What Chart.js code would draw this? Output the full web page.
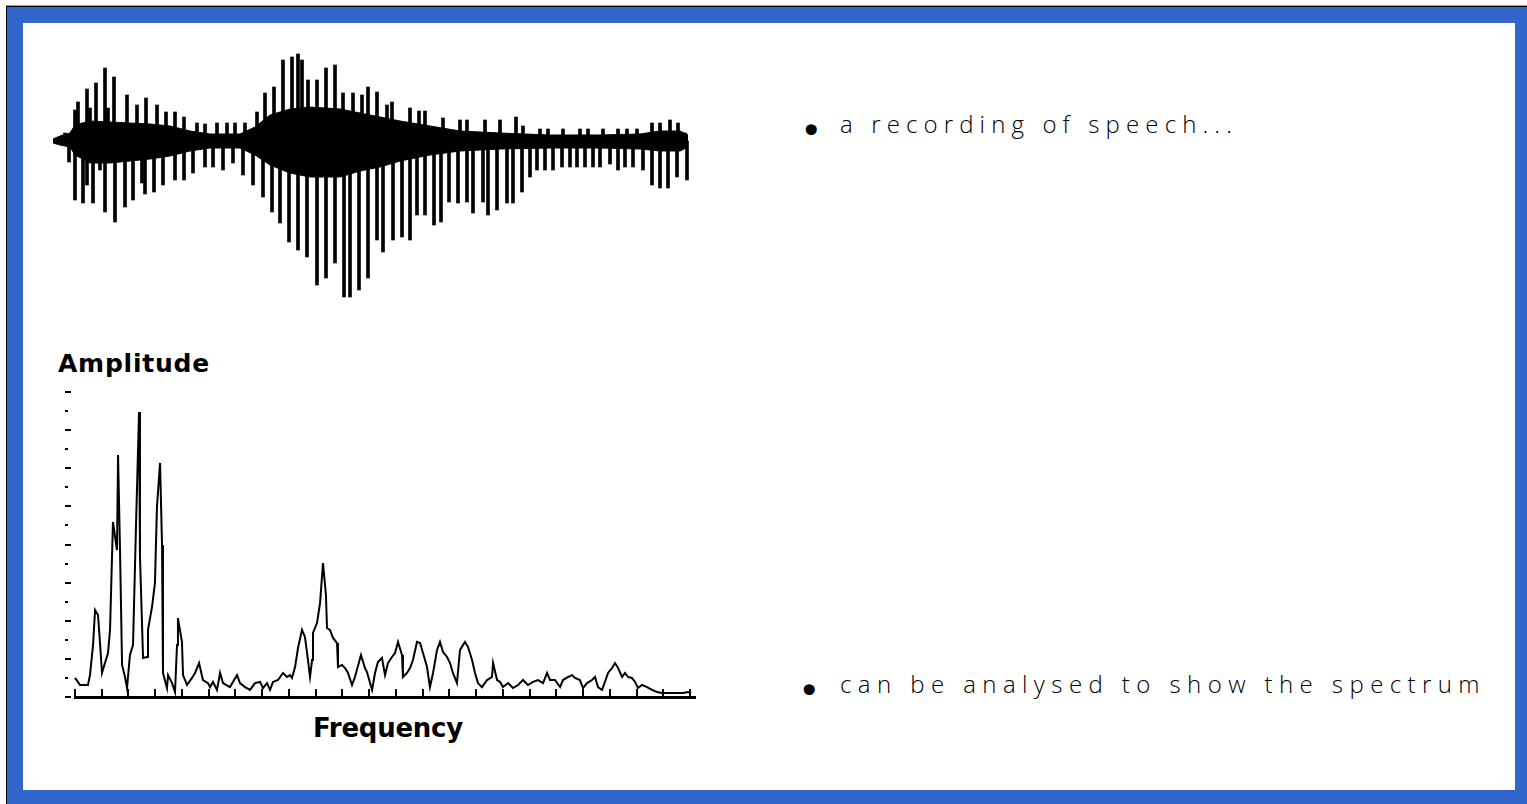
<!DOCTYPE html>
<html>
<head>
<meta charset="utf-8">
<script src="https://cdn.jsdelivr.net/npm/chart.js@4/dist/chart.umd.min.js"></script>
<style>
  html, body { margin: 0; padding: 0; background: #fff; }
  body { width: 1527px; height: 804px; position: relative; overflow: hidden; }
  .abs { position: absolute; }
  .txt { position: absolute; white-space: nowrap; line-height: 1; color: #000; }
  .light { font-family: "Open Sans", "DejaVu Sans", sans-serif; font-weight: 300; font-size: 24px; }
  .bold { font-family: "DejaVu Sans", sans-serif; font-weight: bold; }
  canvas { position: absolute; }
</style>
</head>
<body>
<!-- slide frame -->
<div class="abs" style="left:6px;top:5px;width:1521px;height:1px;background:#a0a0a0"></div>
<div class="abs" style="left:6px;top:6px;width:1521px;height:1px;background:#000"></div>
<div class="abs" style="left:6px;top:6px;width:1px;height:798px;background:#000"></div>
<div class="abs" style="left:7px;top:7px;width:1520px;height:797px;background:#3366cc"></div>
<div class="abs" style="left:23px;top:23px;width:1492px;height:767px;background:#fff"></div>

<canvas id="wave" style="left:40px;top:40px" width="670" height="280"></canvas>
<canvas id="spec" style="left:64px;top:382px" width="642" height="325"></canvas>

<div class="txt bold" id="ampLabel" style="left:58px;top:351px;font-size:25px">Amplitude</div>
<div class="txt bold" id="freqLabel" style="left:313px;top:715px;font-size:26px">Frequency</div>

<div class="txt" style="left:800px;top:112px;font-size:38px;font-family:'DejaVu Sans'">•</div>
<div class="txt light" id="line1" style="left:840px;top:112px">a recording of speech...</div>
<div class="txt" style="left:798px;top:672px;font-size:38px;font-family:'DejaVu Sans'">•</div>
<div class="txt light" id="line2" style="left:840px;top:672px">can be analysed to show the spectrum</div>

<script>
// ---- speech waveform (time in ms, amplitude in sample units) ----
const upT = [15,25,28,37,40,46,55,58,64,77,87,96,107,116,125,134,147,155,167,177,185,195,
  207,215,224,233,242,248,252,258,267,276,285,293,303,312,318,327,337,342,360,369,375,393,
  410,417,435,450,466,473,490,498,513,530,538,553,568,577,587,602,610,620,628,635];
const upA = [8,31,39,52,33,58,73,33,64,46,36,43,36,29,29,24,18,17,18,18,18,18,
  29,48,54,81,84,87,81,61,61,73,76,48,48,46,54,49,36,39,33,30,30,23,
  21,21,21,21,24,15,12,12,12,12,12,12,12,12,12,18,18,21,18,8];

const downT = [19,25,33,37,43,50,55,65,75,83,92,95,104,113,125,134,143,155,163,173,183,193,
  203,213,222,230,239,248,257,267,276,285,294,300,309,318,327,333,343,352,360,367,375,384,
  391,399,408,417,423,433,438,447,457,463,472,480,487,495,503,512,520,527,535,543,550,560,
  568,575,583,593,602,610,618,627,637];
const downA = [-21,-59,-62,-44,-62,-29,-71,-81,-66,-59,-42,-53,-51,-44,-39,-39,-32,-26,-26,-29,-22,-34,
  -44,-56,-71,-82,-101,-109,-116,-144,-137,-122,-156,-156,-149,-137,-99,-111,-99,-96,-99,-74,-74,-84,
  -81,-61,-62,-61,-72,-61,-74,-69,-62,-62,-51,-36,-29,-29,-29,-26,-26,-26,-26,-26,-26,-23,
  -29,-26,-26,-29,-44,-47,-47,-36,-39];

const envT  = [3,10,20,25,40,60,80,100,120,140,160,190,205,220,240,260,290,310,330,350,380,410,450,500,550,590,610,630,638];
const envHi = [2,5,8,16,20,19,18,17,15,10,7,7,14,26,32,34,32,28,24,20,15,10,8,6,6,7,10,10,6];
const envLo = [-2,-4,-6,-14,-22,-22,-20,-18,-15,-10,-7,-7,-14,-24,-32,-36,-36,-30,-26,-20,-14,-10,-8,-7,-7,-8,-10,-10,-6];

// ---- spectrum (frequency in Hz, relative amplitude) ----
const specHz = [0,22,37,97,112,135,150,172,187,202,224,247,262,284,314,322,337,352,374,389,
  411,434,456,479,486,509,539,546,576,598,613,636,651,658,688,696,726,748,763,770,800,808,838,
  875,898,928,957,995,1010,1032,1062,1085,1107,1159,1212,1234,1272,1309,1346,1384,1406,1436,
  1459,1481,1518,1556,1586,1608,1623,1646,1668,1698,1720,1735,1758,1773,1780,1810,1833,1855,
  1877,1885,1907,1930,1960,1967,1997,2020,2042,2072,2094,2139,2169,2184,2222,2244,2266,2296,
  2319,2341,2371,2394,2416,2446,2453,2483,2506,2528,2558,2581,2603,2633,2655,2678,2708,2730,
  2753,2783,2805,2827,2857,2880,2917,2940,2970,2992,3014,3044,3082,3119,3127,3157,3179,3201,
  3239,3276,3314,3351,3388,3426,3463,3501,3531,3553,3590,3628,3650,3688,3718,3740,3777,3800,
  3830,3867,3890,3912,3942,3964,3987,4017,4039,4062,4092,4114,4136,4166,4189,4211,4241,4279,
  4316,4353,4391,4428,4473,4510,4548,4585,4608];
const specAmp = [1.00,0.79,0.63,0.63,1.15,2.73,4.56,4.30,2.83,1.26,1.78,2.31,3.52,9.18,7.71,12.70,7.61,1.68,1.05,0.47,
  2.20,2.73,8.92,14.95,7.35,2.05,2.10,3.52,4.72,5.98,9.97,12.28,7.97,1.26,0.47,1.15,0.73,0.26,2.73,4.14,2.89,1.15,0.63,
  1.00,1.26,1.78,0.89,0.73,0.52,0.79,0.37,1.26,0.73,0.52,1.15,0.73,0.52,0.37,0.73,0.79,0.47,0.73,
  0.37,0.79,0.89,1.26,1.05,1.15,1.00,1.57,2.57,3.52,3.15,2.36,1.05,1.94,3.36,3.88,4.93,7.03,
  5.35,3.62,3.52,3.10,2.83,1.57,1.68,1.52,1.26,0.63,1.05,2.20,1.52,1.31,0.37,1.26,1.84,2.05,
  1.15,1.78,2.10,2.31,2.89,2.20,1.05,1.26,1.52,1.94,2.89,2.83,2.31,1.57,0.52,1.26,2.47,2.89,
  2.36,2.10,1.78,1.26,0.73,2.47,2.89,2.62,1.94,1.26,0.73,0.52,0.89,1.05,1.78,0.89,0.79,0.52,
  0.73,0.47,0.63,0.89,0.63,0.79,0.89,0.73,1.26,0.89,0.89,0.52,0.89,1.05,1.15,1.00,0.89,0.47,
  0.73,0.89,1.05,0.52,0.37,0.79,1.26,1.52,1.78,1.52,1.05,1.26,1.05,1.00,0.79,0.47,0.63,0.52,
  0.37,0.26,0.21,0.21,0.21,0.21,0.21,0.26,0.21];

const ampTickStep = 1, ampMax = 16;
const freqTickStep = 200, freqTickMax = 4600;

const zip = (xs, ys) => xs.map((x, i) => ({ x, y: ys[i] }));
const spike = (xs, ys) => xs.map((x, i) => ({ x, y: [0, ys[i]] }));

new Chart(document.getElementById('wave'), {
  type: 'bar',
  data: {
    datasets: [
      { type: 'line', data: zip(envT, envHi), borderColor: '#000', borderWidth: 1,
        backgroundColor: '#000', pointRadius: 0, tension: 0, fill: '+1', order: 2 },
      { type: 'line', data: zip(envT, envLo), borderColor: '#000', borderWidth: 1,
        pointRadius: 0, tension: 0, fill: false, order: 2 },
      { data: spike(upT, upA), backgroundColor: '#000', barThickness: 3, grouped: false, order: 1 },
      { data: spike(downT, downA), backgroundColor: '#000', barThickness: 3, grouped: false, order: 1 }
    ]
  },
  options: {
    responsive: false, animation: false, events: [],
    layout: { padding: 0 },
    plugins: { legend: { display: false }, tooltip: { enabled: false } },
    scales: {
      x: { type: 'linear', min: -10, max: 660, offset: false, display: false },
      y: { min: -179, max: 101, display: false }
    }
  }
});

// axis marks of the spectrum: baseline, upward frequency ticks, amplitude dashes
const spectrumAxes = {
  id: 'spectrumAxes',
  afterDatasetsDraw(chart) {
    const { ctx, chartArea, scales: { x, y } } = chart;
    const base = y.getPixelForValue(0);
    ctx.save();
    ctx.fillStyle = '#000';
    ctx.fillRect(chartArea.left, Math.round(base) - 1, chartArea.right - chartArea.left, 3);
    for (let f = 0; f <= freqTickMax; f += freqTickStep) {
      const px = Math.round(x.getPixelForValue(f));
      ctx.fillRect(px - 1, Math.round(base) - 8, 2, 8);
    }
    for (let v = 0; v <= ampMax; v += ampTickStep) {
      const py = Math.round(y.getPixelForValue(v));
      const w = (v % 2 === 0) ? 6 : 3;
      ctx.fillRect(chartArea.left - 9, py - 1, w, 2);
    }
    ctx.restore();
  }
};

new Chart(document.getElementById('spec'), {
  type: 'line',
  data: {
    datasets: [{ data: zip(specHz, specAmp), borderColor: '#000', borderWidth: 2,
      pointRadius: 0, tension: 0, fill: false }]
  },
  options: {
    responsive: false, animation: false, events: [],
    layout: { padding: 10 },
    plugins: { legend: { display: false }, tooltip: { enabled: false } },
    scales: {
      x: { type: 'linear', min: -7.5, max: 4645, display: false },
      y: { min: 0, max: ampMax, display: false }
    }
  },
  plugins: [spectrumAxes]
});

// spread the caption lines across their text column
function spread(id, width) {
  const el = document.getElementById(id);
  const w = el.getBoundingClientRect().width;
  const n = el.textContent.length;
  el.style.letterSpacing = ((width - w) / n) + 'px';
}
spread('line1', 398);
spread('line2', 646);
spread('ampLabel', 152);
spread('freqLabel', 150);
</script>
</body>
</html>
